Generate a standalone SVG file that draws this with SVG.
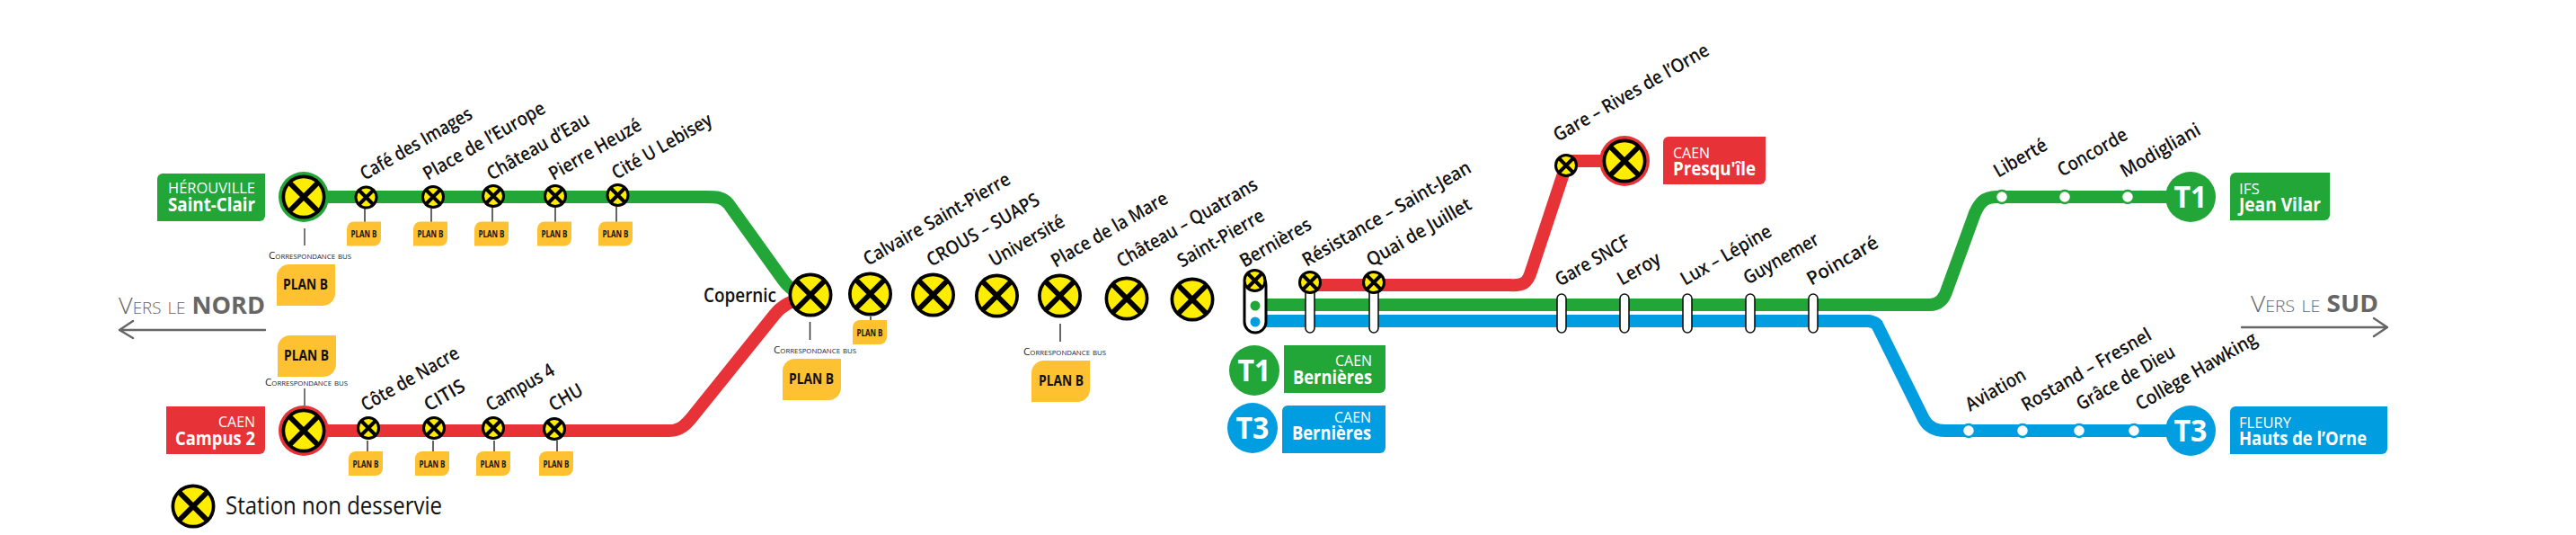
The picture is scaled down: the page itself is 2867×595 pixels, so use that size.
<svg xmlns="http://www.w3.org/2000/svg" width="2867" height="595" viewBox="0 0 2867 595">
<style>
text{font-family:"Open Sans","Noto Sans","Liberation Sans",sans-serif}
.st{font-size:21px;font-weight:600;fill:#111}
.pl{fill:#fdc132}
.pb{font-size:10px;font-weight:700;fill:#111;text-anchor:middle}
.pB{font-size:16px;font-weight:700;fill:#111;text-anchor:middle}
.cb{font-size:10.5px;font-variant:small-caps;fill:#222}
.stem{stroke:#333;stroke-width:1.5;fill:none}
.stemB{stroke:#777;stroke-width:2;fill:none}
.ln{fill:none;stroke-width:14;stroke-linejoin:round}
.t1{stroke:#23a638}.t3{stroke:#009ee0}.rd{stroke:#e73337}
.f1{fill:#23a638}.f3{fill:#009ee0}.fr{fill:#e73337}
.lt{font-size:16px;fill:#fff;font-weight:400}
.lb{font-size:20.5px;fill:#fff;font-weight:700}
.end{text-anchor:end}
.big{font-size:34px;font-weight:700;fill:#fff;text-anchor:middle}
.cap{fill:#fff;stroke:#111;stroke-width:1.6}
.capB{fill:#fff;stroke:#000;stroke-width:3}
.dir{fill:#666;font-size:26px;font-variant:small-caps;font-weight:300}
.dirB{font-weight:700}
.arr{fill:none;stroke:#666;stroke-width:2.4;stroke-linecap:round;stroke-linejoin:round}
</style>
<defs>
<g id="xb"><circle r="24.5" fill="#000"/><circle r="20.8" fill="#ffed00"/><path d="M-15.5,-15.5 15.5,15.5M15.5,-15.5 -15.5,15.5" stroke="#000" stroke-width="6"/></g>
<g id="xs"><circle r="13" fill="#000"/><circle r="10" fill="#ffed00"/><path d="M-7.5,-7.5 7.5,7.5M7.5,-7.5 -7.5,7.5" stroke="#000" stroke-width="4"/></g>
<path id="pbS" class="pl" d="M8,0H38V19A8,8 0 0 1 30,27H0V8A8,8 0 0 1 8,0Z"/>
<path id="pbB" class="pl" d="M14,0H65V32A14,14 0 0 1 51,46H0V14A14,14 0 0 1 14,0Z"/>
<circle id="w1" r="7" fill="#fff" stroke="#23a638" stroke-width="2.5"/>
<circle id="w3" r="7" fill="#fff" stroke="#009ee0" stroke-width="2.5"/>
</defs>
<g id="connectors">
<path class="ln t1" d="M338,219H780C795,219 804,218 811,227L872,312C878,320 885,326 900,328"/>
<path class="ln rd" d="M338,479H745C757,479 764,472 771,463L862,350C870,340 880,334 900,330"/>
<path class="ln t1" d="M1397,339H2148C2158,339 2164,332 2167,322L2198,237C2203,226 2208,219 2222,219H2438"/>
<path class="ln t3" d="M1397,357H2080Q2086,358 2089,361L2141,466Q2148,479 2165,479H2438"/>
<path class="ln rd" d="M1458,317H1680C1695,318 1700,315 1704,302L1743,184V179H1808"/>
</g>
<g id="term-herouville"><path class="f1" d="M181,193H295V240A6,6 0 0 1 289,246H175V199A6,6 0 0 1 181,193Z"/><text class="lt end" x="284" y="215" textLength="97" lengthAdjust="spacingAndGlyphs">HÉROUVILLE</text><text class="lb end" x="284" y="235" textLength="97" lengthAdjust="spacingAndGlyphs">Saint-Clair</text><circle cx="338" cy="219" r="28" class="f1"/><use href="#xb" x="338" y="219"/></g>
<g id="term-campus2"><path class="fr" d="M185,452H295V499A6,6 0 0 1 289,505H185Z"/><text class="lt end" x="284" y="475" textLength="41" lengthAdjust="spacingAndGlyphs">CAEN</text><text class="lb end" x="284" y="495" textLength="89" lengthAdjust="spacingAndGlyphs">Campus 2</text><circle cx="338" cy="479" r="28" class="fr"/><use href="#xb" x="338" y="479"/></g>
<g id="term-presquile"><path class="fr" d="M1857,152H1965V199A6,6 0 0 1 1959,205H1851V158A6,6 0 0 1 1857,152Z"/><text class="lt" x="1862" y="176" textLength="41" lengthAdjust="spacingAndGlyphs">CAEN</text><text class="lb" x="1862" y="195" textLength="92" lengthAdjust="spacingAndGlyphs">Presqu'île</text><circle cx="1808" cy="179" r="28" class="fr"/><use href="#xb" x="1808" y="179"/></g>
<g id="term-t1-bernieres"><circle cx="1396" cy="412" r="28" class="f1"/><text class="big" x="1396" y="424" textLength="37" lengthAdjust="spacingAndGlyphs">T1</text><path class="f1" d="M1429,384H1542V431A6,6 0 0 1 1536,437H1429Z"/><text class="lt end" x="1527" y="407" textLength="41" lengthAdjust="spacingAndGlyphs">CAEN</text><text class="lb end" x="1527" y="427" textLength="88" lengthAdjust="spacingAndGlyphs">Bernières</text></g>
<g id="term-t3-bernieres"><circle cx="1394" cy="476" r="28" class="f3"/><text class="big" x="1394" y="488" textLength="37" lengthAdjust="spacingAndGlyphs">T3</text><path class="f3" d="M1433,451H1542V498A6,6 0 0 1 1536,504H1427V457A6,6 0 0 1 1433,451Z"/><text class="lt end" x="1526" y="470" textLength="41" lengthAdjust="spacingAndGlyphs">CAEN</text><text class="lb end" x="1526" y="489" textLength="88" lengthAdjust="spacingAndGlyphs">Bernières</text></g>
<g id="term-t1-ifs"><circle cx="2438" cy="219" r="28" class="f1"/><text class="big" x="2438" y="231" textLength="37" lengthAdjust="spacingAndGlyphs">T1</text><path class="f1" d="M2488,192H2593V239A6,6 0 0 1 2587,245H2482V198A6,6 0 0 1 2488,192Z"/><text class="lt" x="2492" y="216" textLength="23" lengthAdjust="spacingAndGlyphs">IFS</text><text class="lb" x="2492" y="235" textLength="91" lengthAdjust="spacingAndGlyphs">Jean Vilar</text></g>
<g id="term-t3-fleury"><circle cx="2438" cy="479" r="28" class="f3"/><text class="big" x="2438" y="491" textLength="37" lengthAdjust="spacingAndGlyphs">T3</text><path class="f3" d="M2488,452H2657V499A6,6 0 0 1 2651,505H2482V458A6,6 0 0 1 2488,452Z"/><text class="lt" x="2492" y="476" textLength="58" lengthAdjust="spacingAndGlyphs">FLEURY</text><text class="lb" x="2492" y="495" textLength="142" lengthAdjust="spacingAndGlyphs">Hauts de l’Orne</text></g>
<g id="bus-herouville"><path class="stemB" d="M339,254V273"/><text class="cb" x="299" y="288" textLength="92" lengthAdjust="spacingAndGlyphs">Correspondance bus</text><use href="#pbB" x="308" y="294"/><text class="pB" x="340" y="322" textLength="50" lengthAdjust="spacingAndGlyphs">PLAN B</text></g>
<g id="bus-campus2"><use href="#pbB" x="309" y="373"/><text class="pB" x="341" y="401" textLength="50" lengthAdjust="spacingAndGlyphs">PLAN B</text><text class="cb" x="295" y="429" textLength="92" lengthAdjust="spacingAndGlyphs">Correspondance bus</text><path class="stemB" d="M339,432V451"/></g>
<g id="bus-copernic"><path class="stem" d="M901.5,358V378"/><text class="cb" x="861" y="393" textLength="92" lengthAdjust="spacingAndGlyphs">Correspondance bus</text><use href="#pbB" x="871" y="399"/><text class="pB" x="903" y="427" textLength="50" lengthAdjust="spacingAndGlyphs">PLAN B</text></g>
<g id="bus-mare"><path class="stem" d="M1180,360V380"/><text class="cb" x="1139" y="395" textLength="92" lengthAdjust="spacingAndGlyphs">Correspondance bus</text><use href="#pbB" x="1148" y="401"/><text class="pB" x="1181" y="429" textLength="50" lengthAdjust="spacingAndGlyphs">PLAN B</text></g>
<g id="plan-small">
<path class="stem" d="M406,232V247M480,232V247M548,231V247M618,231V247M686,230V247M409,490V502M482,490V502M550,490V502M620,490V502M969,352V356"/>
<use href="#pbS" x="386" y="246.500"/><text class="pb" x="405" y="264" textLength="29" lengthAdjust="spacingAndGlyphs">PLAN B</text>
<use href="#pbS" x="460" y="246.500"/><text class="pb" x="479" y="264" textLength="29" lengthAdjust="spacingAndGlyphs">PLAN B</text>
<use href="#pbS" x="528" y="246.500"/><text class="pb" x="547" y="264" textLength="29" lengthAdjust="spacingAndGlyphs">PLAN B</text>
<use href="#pbS" x="598" y="246.500"/><text class="pb" x="617" y="264" textLength="29" lengthAdjust="spacingAndGlyphs">PLAN B</text>
<use href="#pbS" x="666" y="246.500"/><text class="pb" x="685" y="264" textLength="29" lengthAdjust="spacingAndGlyphs">PLAN B</text>
<use href="#pbS" x="388" y="502"/><text class="pb" x="407" y="519.500" textLength="29" lengthAdjust="spacingAndGlyphs">PLAN B</text>
<use href="#pbS" x="462" y="502"/><text class="pb" x="481" y="519.500" textLength="29" lengthAdjust="spacingAndGlyphs">PLAN B</text>
<use href="#pbS" x="530" y="502"/><text class="pb" x="549" y="519.500" textLength="29" lengthAdjust="spacingAndGlyphs">PLAN B</text>
<use href="#pbS" x="600" y="502"/><text class="pb" x="619" y="519.500" textLength="29" lengthAdjust="spacingAndGlyphs">PLAN B</text>
<use href="#pbS" x="949" y="356"/><text class="pb" x="968" y="373.500" textLength="29" lengthAdjust="spacingAndGlyphs">PLAN B</text>
</g>
<g id="capsules">
<rect class="capB" x="1385" y="305" width="24" height="65" rx="12"/>
<circle cx="1397" cy="340" r="5.500" class="f1"/><circle cx="1397" cy="358" r="5.500" class="f3"/>
<rect class="cap" x="1453" y="320" width="10" height="50" rx="5"/><rect class="cap" x="1524" y="320" width="10" height="50" rx="5"/>
<rect class="cap" x="1733" y="327" width="10" height="43" rx="5"/><rect class="cap" x="1803" y="327" width="10" height="43" rx="5"/><rect class="cap" x="1873" y="327" width="10" height="43" rx="5"/><rect class="cap" x="1943" y="327" width="10" height="43" rx="5"/><rect class="cap" x="2013" y="327" width="10" height="43" rx="5"/>
</g>
<g id="stations">
<use href="#xs" x="407.500" y="219.500"/><use href="#xs" x="482" y="219"/><use href="#xs" x="549" y="218"/><use href="#xs" x="618" y="218"/><use href="#xs" x="687.500" y="217"/>
<use href="#xs" x="410" y="476"/><use href="#xs" x="483" y="476"/><use href="#xs" x="549" y="476"/><use href="#xs" x="617" y="477"/>
<use href="#xb" x="902" y="328"/><use href="#xb" x="968.500" y="327"/><use href="#xb" x="1038.500" y="328"/><use href="#xb" x="1109.500" y="329"/><use href="#xb" x="1179.500" y="329"/><use href="#xb" x="1254" y="332"/><use href="#xb" x="1327" y="333"/>
<use href="#xs" x="1396.500" y="312"/><use href="#xs" x="1458" y="314"/><use href="#xs" x="1529" y="314"/><use href="#xs" x="1743" y="184"/>
<use href="#w1" x="2228" y="219"/><use href="#w1" x="2298" y="219"/><use href="#w1" x="2368" y="219"/>
<use href="#w3" x="2191" y="479"/><use href="#w3" x="2251" y="479"/><use href="#w3" x="2314" y="479"/><use href="#w3" x="2375" y="479"/>
</g>
<g id="labels">
<text class="st" transform="translate(406,201) rotate(-30)" textLength="140" lengthAdjust="spacingAndGlyphs">Café des Images</text>
<text class="st" transform="translate(476,201) rotate(-30)" textLength="153" lengthAdjust="spacingAndGlyphs">Place de l’Europe</text>
<text class="st" transform="translate(547,201) rotate(-30)" textLength="128" lengthAdjust="spacingAndGlyphs">Château d’Eau</text>
<text class="st" transform="translate(616,201) rotate(-30)" textLength="115" lengthAdjust="spacingAndGlyphs">Pierre Heuzé</text>
<text class="st" transform="translate(686,200) rotate(-30)" textLength="125" lengthAdjust="spacingAndGlyphs">Cité U Lebisey</text>
<text class="st" transform="translate(407,458) rotate(-30)" textLength="122" lengthAdjust="spacingAndGlyphs">Côte de Nacre</text>
<text class="st" transform="translate(477,458) rotate(-30)" textLength="49" lengthAdjust="spacingAndGlyphs">CITIS</text>
<text class="st" transform="translate(546,458) rotate(-30)" textLength="84" lengthAdjust="spacingAndGlyphs">Campus 4</text>
<text class="st" transform="translate(616,458) rotate(-30)" textLength="40" lengthAdjust="spacingAndGlyphs">CHU</text>
<text class="st" x="783" y="336" textLength="81" lengthAdjust="spacingAndGlyphs">Copernic</text>
<text class="st" transform="translate(966,296) rotate(-30)" textLength="185" lengthAdjust="spacingAndGlyphs">Calvaire Saint-Pierre</text>
<text class="st" transform="translate(1036.500,297) rotate(-30)" textLength="141" lengthAdjust="spacingAndGlyphs">CROUS – SUAPS</text>
<text class="st" transform="translate(1106,297) rotate(-30)" textLength="93" lengthAdjust="spacingAndGlyphs">Université</text>
<text class="st" transform="translate(1175,298) rotate(-30)" textLength="146" lengthAdjust="spacingAndGlyphs">Place de la Mare</text>
<text class="st" transform="translate(1248,298) rotate(-30)" textLength="177" lengthAdjust="spacingAndGlyphs">Château – Quatrans</text>
<text class="st" transform="translate(1315.500,298) rotate(-30)" textLength="108" lengthAdjust="spacingAndGlyphs">Saint-Pierre</text>
<text class="st" transform="translate(1385,298) rotate(-30)" textLength="88" lengthAdjust="spacingAndGlyphs">Bernières</text>
<text class="st" transform="translate(1454.500,297) rotate(-30)" textLength="213" lengthAdjust="spacingAndGlyphs">Résistance – Saint-Jean</text>
<text class="st" transform="translate(1526,297) rotate(-30)" textLength="131" lengthAdjust="spacingAndGlyphs">Quai de Juillet</text>
<text class="st" transform="translate(1734,158) rotate(-30)" textLength="196" lengthAdjust="spacingAndGlyphs">Gare – Rives de l’Orne</text>
<text class="st" transform="translate(1736,319) rotate(-30)" textLength="92" lengthAdjust="spacingAndGlyphs">Gare SNCF</text>
<text class="st" transform="translate(1805,318) rotate(-30)" textLength="52" lengthAdjust="spacingAndGlyphs">Leroy</text>
<text class="st" transform="translate(1875.500,318) rotate(-30)" textLength="113" lengthAdjust="spacingAndGlyphs">Lux – Lépine</text>
<text class="st" transform="translate(1945.500,317) rotate(-30)" textLength="93" lengthAdjust="spacingAndGlyphs">Guynemer</text>
<text class="st" transform="translate(2016,318) rotate(-30)" textLength="88" lengthAdjust="spacingAndGlyphs">Poincaré</text>
<text class="st" transform="translate(2224,198) rotate(-30)" textLength="65" lengthAdjust="spacingAndGlyphs">Liberté</text>
<text class="st" transform="translate(2295,197) rotate(-30)" textLength="86" lengthAdjust="spacingAndGlyphs">Concorde</text>
<text class="st" transform="translate(2365,198) rotate(-30)" textLength="99" lengthAdjust="spacingAndGlyphs">Modigliani</text>
<text class="st" transform="translate(2192.500,458) rotate(-30)" textLength="74" lengthAdjust="spacingAndGlyphs">Aviation</text>
<text class="st" transform="translate(2255,458) rotate(-30)" textLength="163" lengthAdjust="spacingAndGlyphs">Rostand – Fresnel</text>
<text class="st" transform="translate(2316,457) rotate(-30)" textLength="123" lengthAdjust="spacingAndGlyphs">Grâce de Dieu</text>
<text class="st" transform="translate(2382,457) rotate(-30)" textLength="152" lengthAdjust="spacingAndGlyphs">Collège Hawking</text>
</g>
<g id="dir-nord"><text class="dir" x="132" y="349" textLength="163" lengthAdjust="spacingAndGlyphs">Vers le <tspan class="dirB">NORD</tspan></text><path class="arr" d="M295,367H133M148,357 133,367 148,376"/></g>
<g id="dir-sud"><text class="dir" x="2505" y="347" textLength="142" lengthAdjust="spacingAndGlyphs">Vers le <tspan class="dirB">SUD</tspan></text><path class="arr" d="M2495,364H2657M2642,354 2657,364 2642,374"/></g>
<g id="legend"><use href="#xb" x="215" y="563"/><text x="251" y="572" font-size="27" fill="#111" textLength="241" lengthAdjust="spacingAndGlyphs">Station non desservie</text></g>
</svg>
